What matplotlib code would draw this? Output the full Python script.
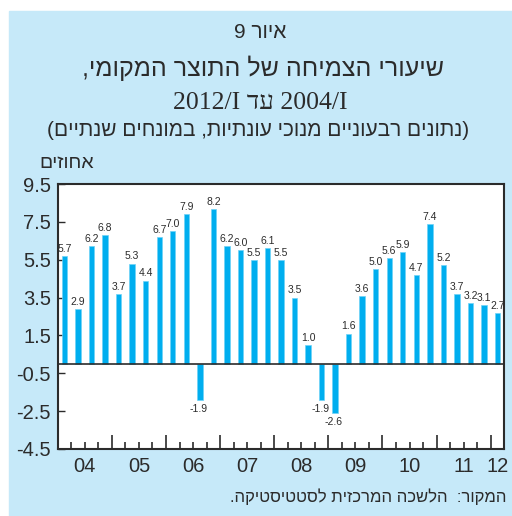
import re

import matplotlib.pyplot as plt
from matplotlib.patches import Rectangle
from matplotlib.ticker import FixedLocator, NullFormatter

plt.rcParams["font.family"] = ["Liberation Sans", "DejaVu Sans"]

# GDP growth, quarterly, seasonally adjusted, annualised (%), 2004/I - 2012/I
growth = [5.7, 2.9, 6.2, 6.8,
          3.7, 5.3, 4.4, 6.7,
          7.0, 7.9, -1.9, 8.2,
          6.2, 6.0, 5.5, 6.1,
          5.5, 3.5, 1.0, -1.9,
          -2.6, 1.6, 3.6, 5.0,
          5.6, 5.9, 4.7, 7.4,
          5.2, 3.7, 3.2, 3.1,
          2.7]
years = ["04", "05", "06", "07", "08", "09", "10", "11", "12"]
y_ticks = [9.5, 7.5, 5.5, 3.5, 1.5, -0.5, -2.5, -4.5]

BLUE_BG = "#c6e9f9"
BAR = "#00aeef"
INK = "#2b2b2b"


def visual(s):
    # matplotlib lays text out left to right: reverse the Hebrew,
    # keep numbers / latin runs in reading order, mirror brackets
    s = s[::-1]
    s = re.sub(r"[0-9A-Za-z/]+", lambda m: m.group(0)[::-1], s)
    return s.translate(str.maketrans("()", ")("))


W, H = 512, 516
fig = plt.figure(figsize=(W / 100, H / 100), dpi=100)
fig.patch.set_facecolor("white")
fig.patches.append(Rectangle((9 / W, 0), 1 - 9 / W, 1 - 11 / H,
                             transform=fig.transFigure, color=BLUE_BG, zorder=-5))


def ftext(x, y, s, **kw):
    fig.text(x / W, 1 - y / H, s, **kw)


ftext(260, 33, visual("איור 9"), ha="center", va="center", fontsize=15, color=INK)
ftext(263, 68, visual("שיעורי הצמיחה של התוצר המקומי,"), ha="center", va="center",
      fontsize=18, color=INK)
ftext(260, 103, visual("2004/I עד 2012/I"), ha="center", va="center", fontsize=18.5,
      color=INK, family=["Liberation Serif", "DejaVu Sans"])
ftext(258, 130, visual("(נתונים רבעוניים מנוכי עונתיות, במונחים שנתיים)"),
      ha="center", va="center", fontsize=15, color=INK)
ftext(67, 163, visual("אחוזים"), ha="center", va="center", fontsize=14, color=INK)
ftext(507, 497, visual("המקור:  הלשכה המרכזית לסטטיסטיקה."), ha="right",
      va="center", fontsize=12, color=INK)

ax = fig.add_axes([58 / W, 1 - 449 / H, (504 - 58) / W, (449 - 184) / H])
ax.set_facecolor("white")

x = list(range(len(growth)))
ax.bar(x, growth, width=0.4, color=BAR, edgecolor="#6fd3f7", linewidth=0.5, zorder=2)
ax.axhline(0, color=INK, linewidth=1.2, zorder=3)

for i, v in zip(x, growth):
    if v >= 0:
        ax.annotate(f"{v:.1f}", (i, v), xytext=(0, 1.5), textcoords="offset points",
                    ha="center", va="bottom", fontsize=7.5, color=INK)
    else:
        ax.annotate(f"{v:.1f}", (i, v), xytext=(-1, -3), textcoords="offset points",
                    ha="center", va="top", fontsize=7.5, color=INK)

ax.set_xlim(-0.48, len(growth) - 0.52)
ax.set_ylim(y_ticks[-1], y_ticks[0])
ax.set_yticks(y_ticks)
ax.set_yticklabels([f"{t:.1f}" for t in y_ticks])
ax.tick_params(axis="y", direction="in", length=5, width=1, labelsize=14.5,
               colors=INK, pad=5)

# year boundaries get long ticks, quarter boundaries short ones
quarter_edges = [i + 0.5 for i in range(len(growth) - 1)]
year_edges = [e for e in quarter_edges if (e + 0.5) % 4 == 0]
ax.xaxis.set_major_locator(FixedLocator(year_edges))
ax.xaxis.set_minor_locator(FixedLocator(quarter_edges))
ax.xaxis.set_major_formatter(NullFormatter())
ax.tick_params(axis="x", which="major", direction="in", length=10, width=1.2, colors=INK)
ax.tick_params(axis="x", which="minor", direction="in", length=5, width=1.2, colors=INK)

for k, label in enumerate(years):
    first = k * 4
    last = min(first + 3, len(growth) - 1)
    ax.annotate(label, ((first + last) / 2, 0), xycoords=("data", "axes fraction"),
                xytext=(0, -6), textcoords="offset points", ha="center", va="top",
                fontsize=14.5, color=INK)

for side in ["left", "right", "top", "bottom"]:
    ax.spines[side].set_linewidth(1.5)
    ax.spines[side].set_color(INK)

fig.savefig("out.png", dpi=100)
